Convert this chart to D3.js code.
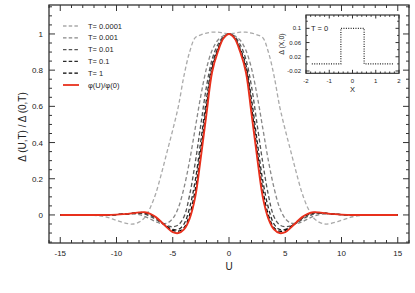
<!DOCTYPE html>
<html>
<head>
<meta charset="utf-8">
<script src="https://cdn.jsdelivr.net/npm/d3@7"></script>
<style>
  body { margin: 0; background: #fff; }
  svg { display: block; font-family: "Liberation Sans", Arial, sans-serif; }
</style>
</head>
<body>
<svg id="chart" width="415" height="293"></svg>
<script>
'use strict'

// U grid (positive half, curves are symmetric in U)
const uPos = [0, 0.5, 1, 1.5, 2, 2.5, 3, 3.5, 4, 4.5, 5, 5.5, 6, 6.5, 7, 7.5, 8, 8.5, 9, 10, 11, 12, 13, 15]

const gapT00001 = [1, 1.005, 1.01, 1.01, 1.005, 0.995, 0.98, 0.9, 0.77, 0.6, 0.47, 0.35, 0.23, 0.12, 0.04, -0.015, -0.04, -0.05, -0.048, -0.03, -0.01, -0.002, 0, 0]
const gapT0001 = [1, 0.99, 0.965, 0.91, 0.81, 0.66, 0.48, 0.3, 0.15, 0.04, -0.02, -0.045, -0.048, -0.038, -0.022, -0.008, 0.002, 0.005, 0.006, 0.002, 0, 0, 0, 0]
const gapT001 = [1, 0.985, 0.94, 0.86, 0.71, 0.5, 0.29, 0.11, -0.01, -0.055, -0.065, -0.06, -0.045, -0.025, -0.008, 0.004, 0.01, 0.009, 0.007, 0.002, 0, 0, 0, 0]
const gapT01 = [1, 0.98, 0.92, 0.83, 0.64, 0.41, 0.19, 0.04, -0.05, -0.08, -0.08, -0.065, -0.04, -0.018, 0, 0.01, 0.012, 0.009, 0.006, 0.002, 0, 0, 0, 0]
const gapT1 = [1, 0.977, 0.91, 0.81, 0.6, 0.36, 0.14, 0, -0.07, -0.09, -0.085, -0.065, -0.04, -0.015, 0.004, 0.013, 0.013, 0.01, 0.006, 0.002, 0, 0, 0, 0]
const phiRatio = [1, 0.975, 0.9, 0.79, 0.56, 0.32, 0.1, -0.02, -0.08, -0.1, -0.095, -0.07, -0.04, -0.012, 0.006, 0.015, 0.014, 0.01, 0.006, 0.002, 0, 0, 0, 0]

const seriesNames = ['T= 0.0001', 'T= 0.001', 'T= 0.01', 'T= 0.1', 'T= 1', 'φ(U)/φ(0)']
const seriesValues = [gapT00001, gapT0001, gapT001, gapT01, gapT1, phiRatio]
const seriesColors = ['#aaaaaa', '#888888', '#555555', '#2a2a2a', '#000000', '#e8301c']

const xTicks = [-15, -10, -5, 0, 5, 10, 15]
const yTicks = [0, 0.2, 0.4, 0.6, 0.8, 1]

// inset: gap at T = 0
const insetX = [-1.75, -0.5, -0.5, 0.5, 0.5, 1.75]
const insetY = [0, 0, 0.1, 0.1, 0, 0]
const insetXTicks = [-2, -1, 0, 1, 2]
const insetYTicks = [-0.02, 0.02, 0.06, 0.1]

function draw(){
	const svg = d3.select('#chart')

	const pLeft = 49, pRight = 409, pTop = 5, pBottom = 243
	const x = d3.scaleLinear().domain([-16, 16]).range([pLeft, pRight])
	const y = d3.scaleLinear().domain([-0.155, 1.16]).range([pBottom, pTop])

	function fullSeries(vals){
		let pts = []
		for (let i = uPos.length - 1; i > 0; i--) pts.push([-uPos[i], vals[i]])
		for (let i = 0; i < uPos.length; i++) pts.push([uPos[i], vals[i]])
		return pts
	}

	let line = d3.line()
		.x(d => x(d[0]))
		.y(d => y(d[1]))
		.curve(d3.curveCatmullRom.alpha(0.5))

	let curves = svg.append('g')
	seriesValues.forEach((vals, i) => {
		let isRed = i === seriesValues.length - 1
		curves.append('path')
			.attr('d', line(fullSeries(vals)))
			.attr('fill', 'none')
			.attr('stroke', seriesColors[i])
			.attr('stroke-width', isRed ? 1.9 : 1.3)
			.attr('stroke-dasharray', isRed ? null : '4,2.5')
	})

	// frame + ticks, mirrored on all sides
	const frameColor = '#333'
	function ticksOn(g, scale, values, len, side){
		values.forEach(v => {
			let p = scale(v)
			let l = g.append('line').attr('stroke', frameColor).attr('stroke-width', 1)
			if (side === 'bottom') l.attr('x1', p).attr('x2', p).attr('y1', pBottom).attr('y2', pBottom - len)
			if (side === 'top') l.attr('x1', p).attr('x2', p).attr('y1', pTop).attr('y2', pTop + len)
			if (side === 'left') l.attr('y1', p).attr('y2', p).attr('x1', pLeft).attr('x2', pLeft + len)
			if (side === 'right') l.attr('y1', p).attr('y2', p).attr('x1', pRight).attr('x2', pRight - len)
		})
	}
	let axes = svg.append('g')
	let xMinor = d3.range(-16, 17, 1).filter(v => v % 5 !== 0)
	let yMinor = d3.range(-0.15, 1.16, 0.05).filter(v => Math.abs(v * 5 - Math.round(v * 5)) > 1e-6)
	;['bottom', 'top'].forEach(s => { ticksOn(axes, x, xTicks, 6, s); ticksOn(axes, x, xMinor, 3, s) })
	;['left', 'right'].forEach(s => { ticksOn(axes, y, yTicks, 6, s); ticksOn(axes, y, yMinor, 3, s) })
	axes.append('rect')
		.attr('x', pLeft).attr('y', pTop)
		.attr('width', pRight - pLeft).attr('height', pBottom - pTop)
		.attr('fill', 'none').attr('stroke', frameColor).attr('stroke-width', 1.3)

	axes.selectAll('text.xt').data(xTicks).join('text')
		.attr('class', 'xt')
		.attr('x', d => x(d)).attr('y', 256)
		.attr('text-anchor', 'middle')
		.attr('font-size', 8).attr('fill', '#222')
		.text(d => d)
	axes.selectAll('text.yt').data(yTicks).join('text')
		.attr('class', 'yt')
		.attr('x', 43).attr('y', d => y(d) + 3)
		.attr('text-anchor', 'end')
		.attr('font-size', 8).attr('fill', '#222')
		.text(d => d)

	svg.append('text')
		.attr('x', x(0)).attr('y', 270)
		.attr('text-anchor', 'middle').attr('font-size', 10).attr('fill', '#222')
		.text('U')
	svg.append('text')
		.attr('transform', 'translate(26,127) rotate(-90)')
		.attr('text-anchor', 'middle').attr('font-size', 10).attr('fill', '#222')
		.text('Δ (U,T) / Δ (0,T)')

	// legend
	let legend = svg.append('g')
	seriesNames.forEach((name, i) => {
		let ry = 26 + i * 11.8
		let isRed = i === seriesNames.length - 1
		legend.append('line')
			.attr('x1', 63).attr('x2', 79).attr('y1', ry).attr('y2', ry)
			.attr('stroke', seriesColors[i])
			.attr('stroke-width', isRed ? 1.8 : 1.3)
			.attr('stroke-dasharray', isRed ? null : '3.5,2.2')
		legend.append('text')
			.attr('x', 88).attr('y', ry + 2.6)
			.attr('font-size', 7.5).attr('fill', '#222')
			.text(name)
	})

	// inset
	const iLeft = 306, iRight = 399, iTop = 15, iBottom = 73.3
	let ix = d3.scaleLinear().domain([-2, 2]).range([iLeft, iRight])
	let iy = d3.scaleLinear().domain([-0.0265, 0.1375]).range([iBottom, iTop])
	let inset = svg.append('g')
	inset.append('rect')
		.attr('x', iLeft).attr('y', iTop)
		.attr('width', iRight - iLeft).attr('height', iBottom - iTop)
		.attr('fill', '#fff')
	inset.append('path')
		.attr('d', d3.line().x((d, i) => ix(insetX[i])).y(d => iy(d))(insetY))
		.attr('fill', 'none').attr('stroke', '#222')
		.attr('stroke-width', 1.2).attr('stroke-dasharray', '1,1.4')

	function insetTicks(values, len, axis){
		values.forEach(v => {
			if (axis === 'x'){
				let p = ix(v)
				inset.append('line').attr('x1', p).attr('x2', p).attr('y1', iBottom).attr('y2', iBottom - len).attr('stroke', frameColor)
				inset.append('line').attr('x1', p).attr('x2', p).attr('y1', iTop).attr('y2', iTop + len).attr('stroke', frameColor)
			} else {
				let p = iy(v)
				inset.append('line').attr('y1', p).attr('y2', p).attr('x1', iLeft).attr('x2', iLeft + len).attr('stroke', frameColor)
				inset.append('line').attr('y1', p).attr('y2', p).attr('x1', iRight).attr('x2', iRight - len).attr('stroke', frameColor)
			}
		})
	}
	insetTicks(insetXTicks, 3.5, 'x')
	insetTicks(d3.range(-1.8, 2, 0.2).filter(v => Math.abs(v - Math.round(v)) > 1e-6), 1.8, 'x')
	insetTicks(insetYTicks, 3.5, 'y')
	insetTicks([0, 0.04, 0.08, 0.12], 1.8, 'y')
	inset.append('rect')
		.attr('x', iLeft).attr('y', iTop)
		.attr('width', iRight - iLeft).attr('height', iBottom - iTop)
		.attr('fill', 'none').attr('stroke', frameColor).attr('stroke-width', 1.2)

	inset.selectAll('text.ixt').data(insetXTicks).join('text')
		.attr('class', 'ixt')
		.attr('x', d => ix(d)).attr('y', 83)
		.attr('text-anchor', 'middle').attr('font-size', 6).attr('fill', '#222')
		.text(d => d)
	inset.selectAll('text.iyt').data(insetYTicks).join('text')
		.attr('class', 'iyt')
		.attr('x', 301).attr('y', d => iy(d) + 2)
		.attr('text-anchor', 'end').attr('font-size', 6).attr('fill', '#222')
		.text(d => d)
	inset.append('text')
		.attr('x', ix(0)).attr('y', 92)
		.attr('text-anchor', 'middle').attr('font-size', 7.5).attr('fill', '#222')
		.text('X')
	inset.append('text')
		.attr('transform', 'translate(284,44) rotate(-90)')
		.attr('text-anchor', 'middle').attr('font-size', 7).attr('fill', '#222')
		.text('Δ (X,0)')
	inset.append('text')
		.attr('x', 311).attr('y', 31)
		.attr('font-size', 7.5).attr('fill', '#222')
		.text('T = 0')
}

draw()
</script>
</body>
</html>
